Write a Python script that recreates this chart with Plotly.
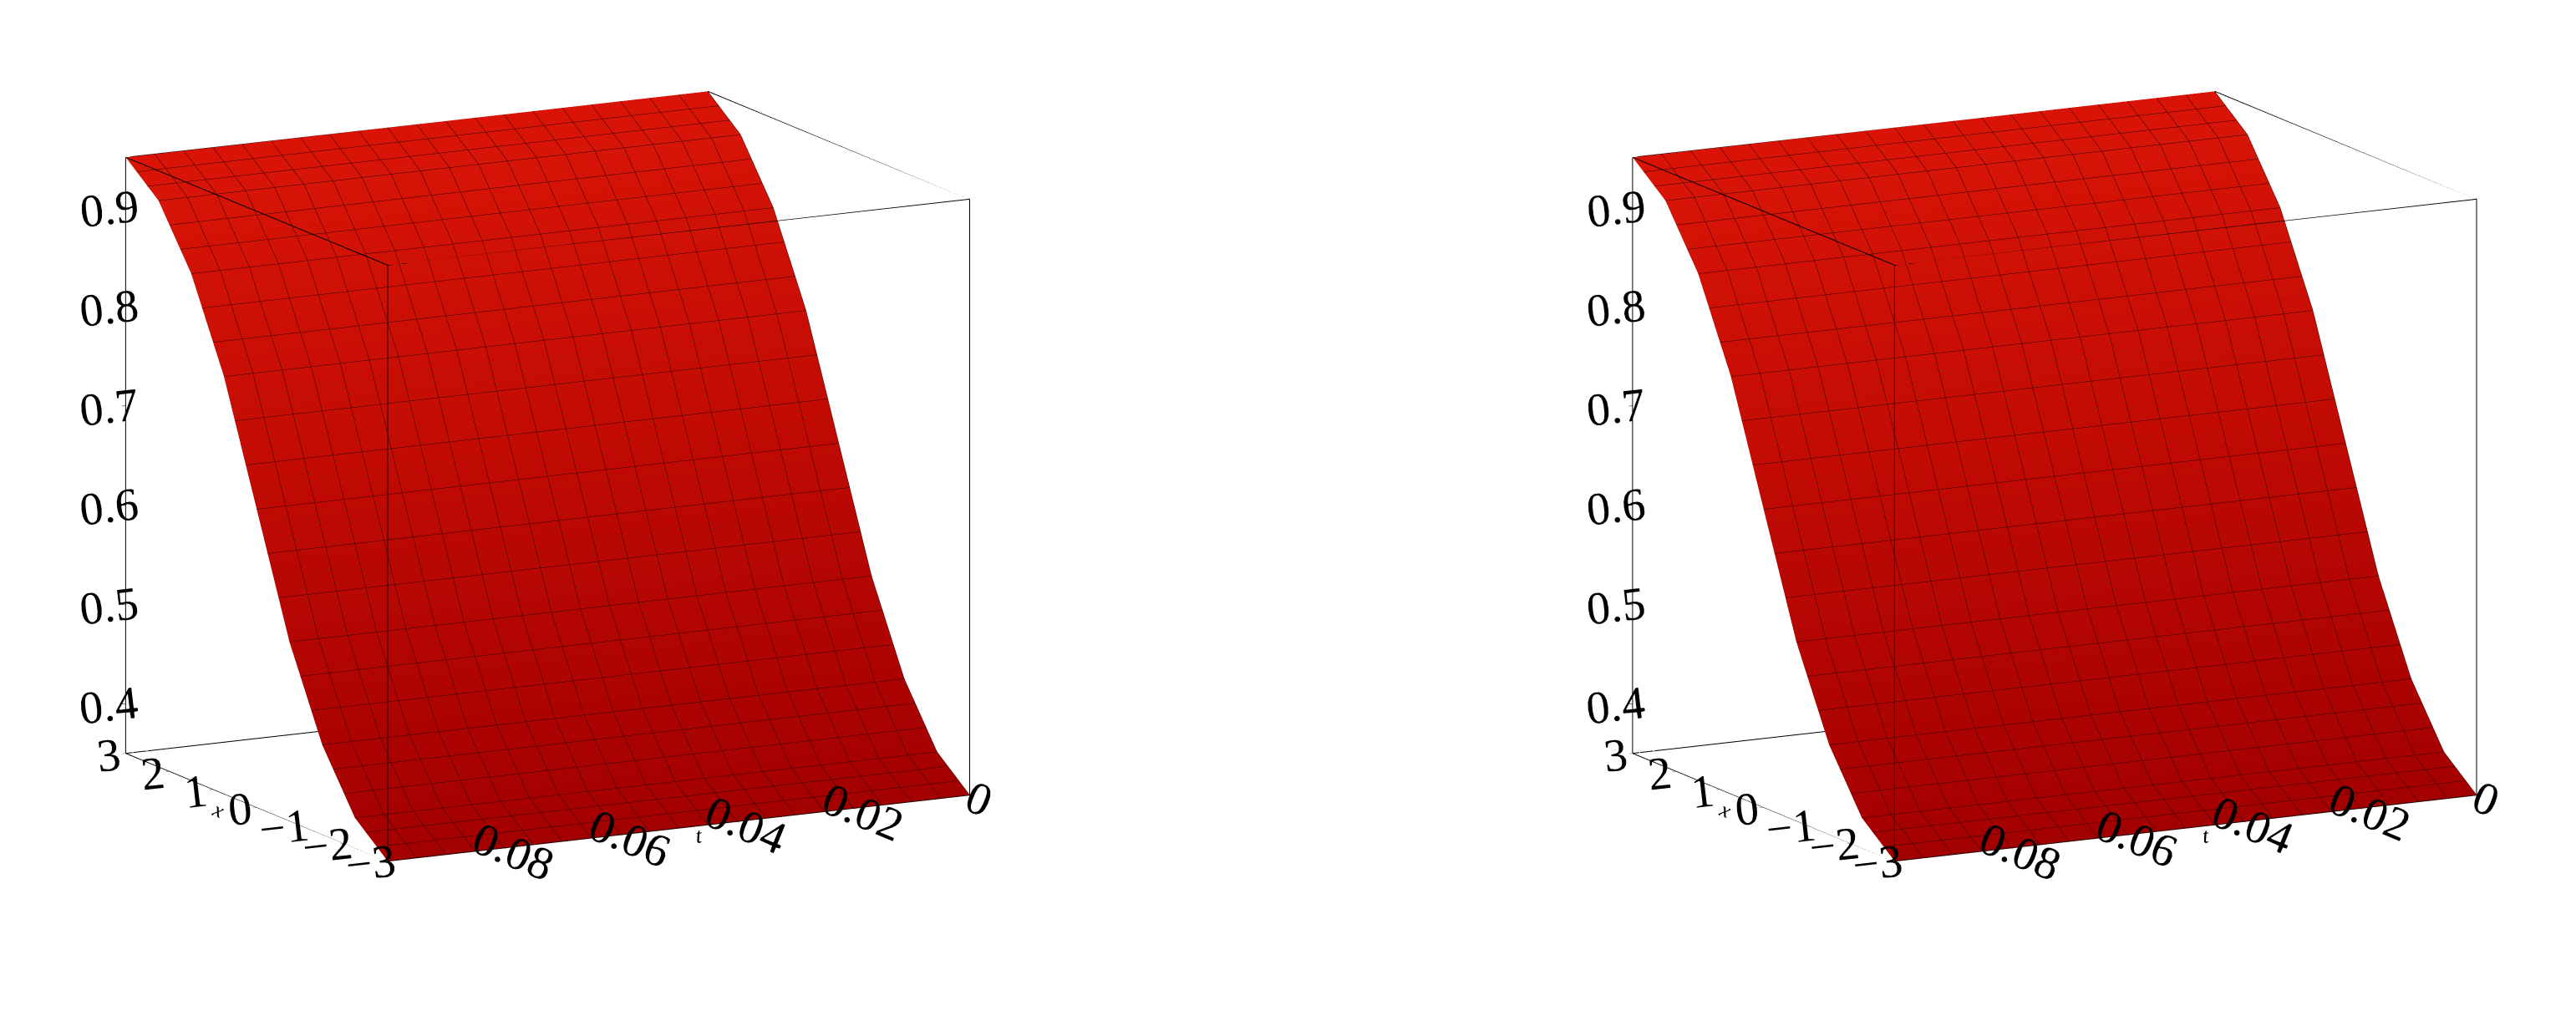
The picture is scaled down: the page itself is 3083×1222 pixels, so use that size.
import plotly.graph_objects as go

# x grid (25 points from -3 to 3) and surface profile
x_vals = [-3.0, -2.75, -2.5, -2.25, -2.0, -1.75, -1.5, -1.25, -1.0, -0.75, -0.5, -0.25, 0.0,
          0.25, 0.5, 0.75, 1.0, 1.25, 1.5, 1.75, 2.0, 2.25, 2.5, 2.75, 3.0]
u_profile = [0.35, 0.36, 0.37, 0.38, 0.40, 0.42, 0.44, 0.47, 0.50, 0.53, 0.57, 0.61, 0.65,
             0.69, 0.73, 0.77, 0.80, 0.83, 0.86, 0.88, 0.90, 0.92, 0.93, 0.94, 0.95]
t_vals = [0.0, 0.01, 0.02, 0.03, 0.04, 0.05, 0.06, 0.07, 0.08, 0.09, 0.1]

x_range = [-3, 3]
t_range = [0, 0.1]
z_range = [0.35, 0.95]

z_surf = [[u for u in u_profile] for _ in t_vals]

fig = go.Figure()

red = [[0, "#c00000"], [1, "#ff1808"]]
# bounding box edges of the Maple-style frame
bx, by, bz = [], [], []
for a in x_range:
    for b in t_range:
        bx += [a, a, None]; by += [b, b, None]; bz += [z_range[0], z_range[1], None]
for a in x_range:
    for c in z_range:
        bx += [a, a, None]; by += [t_range[0], t_range[1], None]; bz += [c, c, None]
for b in t_range:
    for c in z_range:
        bx += [x_range[0], x_range[1], None]; by += [b, b, None]; bz += [c, c, None]

for scene in ["scene", "scene2"]:
    fig.add_trace(go.Surface(
        x=x_vals, y=t_vals, z=z_surf, colorscale=red, showscale=False, scene=scene,
        lighting=dict(ambient=0.85, diffuse=0.6, specular=0.1, roughness=0.7),
        lightposition=dict(x=-1000, y=2000, z=3000),
        contours=dict(
            x=dict(show=True, start=-3, end=3, size=0.25, color="#300000", width=1),
            y=dict(show=True, start=0, end=0.1, size=0.005, color="#300000", width=1),
        ),
    ))
    fig.add_trace(go.Scatter3d(x=bx, y=by, z=bz, mode="lines", scene=scene,
                               line=dict(color="black", width=2), showlegend=False,
                               hoverinfo="skip"))

font = dict(family="Liberation Serif", size=26, color="black")
axis_common = dict(showbackground=False, showgrid=False, zeroline=False,
                   showline=False, ticks="outside", tickcolor="black", tickfont=font,
                   showspikes=False)


def make_scene(dom):
    return dict(
        domain=dict(x=dom, y=[0.08, 1]),
        xaxis=dict(axis_common, range=x_range, tickvals=[-3, -2, -1, 0, 1, 2, 3],
                   ticktext=["\u22123", "\u22122", "\u22121", "0", "1", "2", "3"],
                   title=dict(text="<i>x</i>", font=font)),
        yaxis=dict(axis_common, range=t_range, tickvals=[0, 0.02, 0.04, 0.06, 0.08],
                   ticktext=["0", "0.02", "0.04", "0.06", "0.08"],
                   title=dict(text="<i>t</i>", font=font)),
        zaxis=dict(axis_common, range=z_range, tickvals=[0.4, 0.5, 0.6, 0.7, 0.8, 0.9],
                   title=dict(text="")),
        aspectmode="manual", aspectratio=dict(x=1.2, y=1.4, z=1.3),
        camera=dict(eye=dict(x=-2.0, y=1.05, z=0.5), center=dict(x=0, y=0, z=0),
                    projection=dict(type="orthographic")),
    )


fig.update_layout(scene=make_scene([0.0, 0.42]), scene2=make_scene([0.59, 1.0]),
                  width=3083, height=1222, showlegend=False,
                  paper_bgcolor="white", margin=dict(l=0, r=0, t=0, b=0))

fig.write_html("out.html")
